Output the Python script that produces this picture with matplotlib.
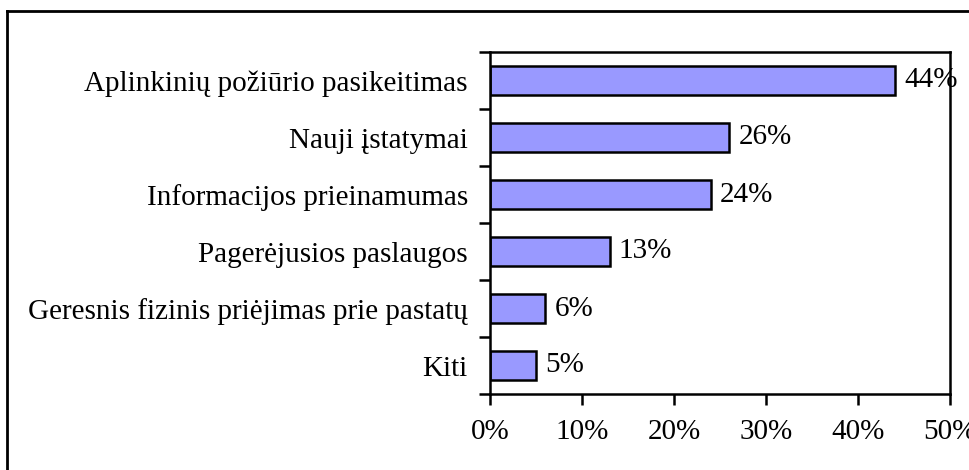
import matplotlib
matplotlib.use("Agg")
import matplotlib.pyplot as plt
from matplotlib.lines import Line2D

categories = ["Aplinkinių požiūrio pasikeitimas", "Nauji įstatymai", "Informacijos prieinamumas",
              "Pagerėjusios paslaugos", "Geresnis fizinis priėjimas prie pastatų", "Kiti"]
values = [44, 26, 24, 13, 6, 5]
xticks = [0, 10, 20, 30, 40, 50]
xtick_labels = ["0%", "10%", "20%", "30%", "40%", "50%"]

plt.rcParams['font.family'] = ['Liberation Serif', 'DejaVu Serif']
fs = 21
fig = plt.figure(figsize=(9.69, 4.70), dpi=100)
ax = fig.add_axes([490/969, 1-394/470, (950-490)/969, (394-52)/470])

n = len(categories)
ypos = list(range(n))[::-1]
ax.barh(ypos, values, height=0.5, color="#9999FF", edgecolor="black", linewidth=1.8)
for y, v in zip(ypos, values):
    ax.text(v + 1.0, y, f"{v}%", va="center", ha="left", fontsize=fs, clip_on=False)

ax.set_xlim(0, 50)
ax.set_ylim(-0.5, n - 0.5)
ax.set_xticks(xticks)
ax.set_xticklabels(xtick_labels, fontsize=fs)
ax.set_yticks(ypos)
ax.set_yticklabels(categories, fontsize=fs)
ax.tick_params(axis='y', which='major', length=0, pad=16)
ax.set_yticks([i - 0.5 for i in range(n + 1)], minor=True)
ax.tick_params(axis='y', which='minor', length=8, width=1.8, direction='out')
ax.tick_params(axis='x', length=8, width=1.8, direction='out', pad=10)
for s in ax.spines.values():
    s.set_linewidth(1.8)

# figure border (top and left visible)
fig.add_artist(Line2D([7/969, 1], [1-11/470, 1-11/470], color='black', lw=2, transform=fig.transFigure))
fig.add_artist(Line2D([7/969, 7/969], [0, 1-11/470], color='black', lw=2, transform=fig.transFigure))

fig.savefig("out.png", dpi=100)
